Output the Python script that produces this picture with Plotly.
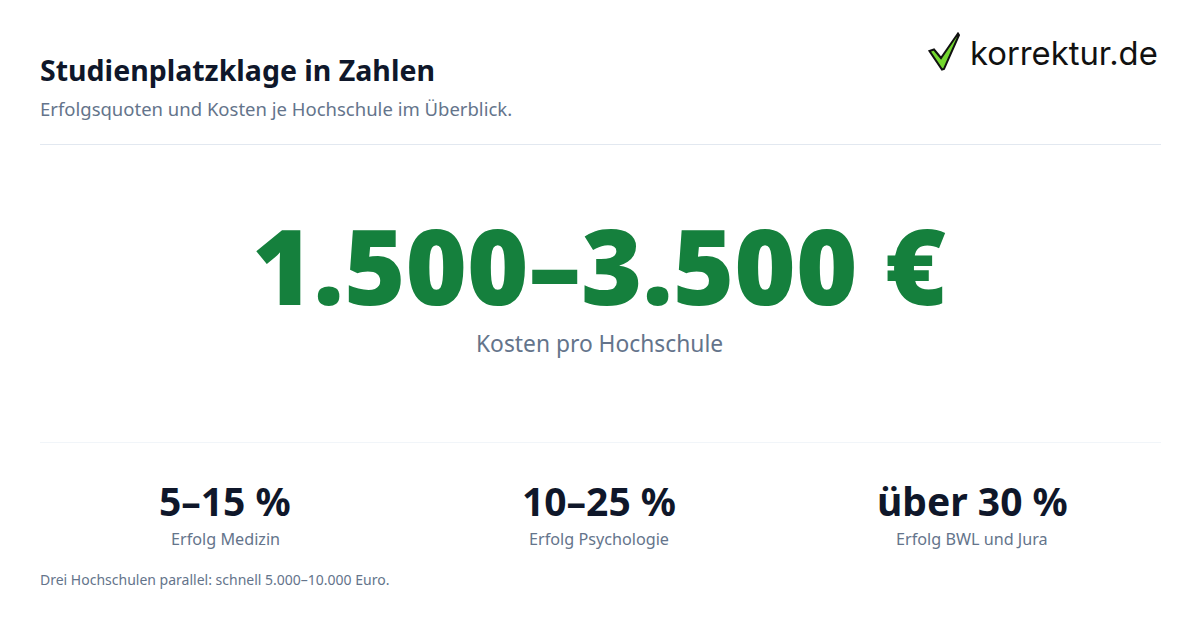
import plotly.graph_objects as go

title = 'Studienplatzklage in Zahlen'
subtitle = 'Erfolgsquoten und Kosten je Hochschule im Überblick.'
main_value = '1.500–3.500 €'
main_label = 'Kosten pro Hochschule'
stat_values = ['5–15 %', '10–25 %', 'über 30 %']
stat_labels = ['Erfolg Medizin', 'Erfolg Psychologie', 'Erfolg BWL und Jura']
stat_x = [225, 599, 972]
footnote = 'Drei Hochschulen parallel: schnell 5.000–10.000 Euro.'
logo_text = 'korrektur.de'

DARK = '#0f172a'
GREY = '#64748b'
GREEN = '#15803d'
FONT = 'Noto Sans'

fig = go.Figure()


def add_text(x, y, text, size, color, anchor='left', weight=400, family=FONT):
    fig.add_annotation(
        x=x, y=y, text=text, showarrow=False, xanchor=anchor, yanchor='middle',
        borderpad=0, borderwidth=0,
        font=dict(family=family, size=size, color=color, weight=weight),
    )


add_text(40, 70, title, 28.5, DARK, weight=700)
add_text(40, 108.5, subtitle, 18.5, GREY)
add_text(599, 264, main_value, 105, GREEN, anchor='center', weight=900)
add_text(599, 343, main_label, 22.8, GREY, anchor='center')

for x, val, lab in zip(stat_x, stat_values, stat_labels):
    add_text(x, 500.5, val, 39, DARK, anchor='center', weight=700)
    add_text(x, 539, lab, 16.2, GREY, anchor='center')

add_text(40, 579, footnote, 14, GREY)
add_text(970, 53, logo_text, 32.8, '#111111', weight=400, family='Inter')

# divider lines
fig.add_shape(type='line', x0=40, x1=1161, y0=144.5, y1=144.5, line=dict(color='#e2e8f0', width=1))
fig.add_shape(type='line', x0=40, x1=1161, y0=442.5, y1=442.5, line=dict(color='#f1f5f9', width=1))

# logo check mark
fig.add_shape(
    type='path',
    path='M 929.5 51 L 934 49.5 L 941 58 L 958 33.5 L 959 35 L 944 69 L 942 69.5 Z',
    fillcolor='#74d72f', line=dict(color='#111111', width=2),
)

fig.update_xaxes(range=[0, 1200], visible=False)
fig.update_yaxes(range=[630, 0], visible=False)
fig.update_layout(
    width=1200, height=630, margin=dict(l=0, r=0, t=0, b=0),
    paper_bgcolor='white', plot_bgcolor='white', showlegend=False,
)

# drop the default body margin so the figure sits flush in the window
fig.write_html('out.html', config=dict(displayModeBar=False),
               post_script="document.body.style.margin='0';")
